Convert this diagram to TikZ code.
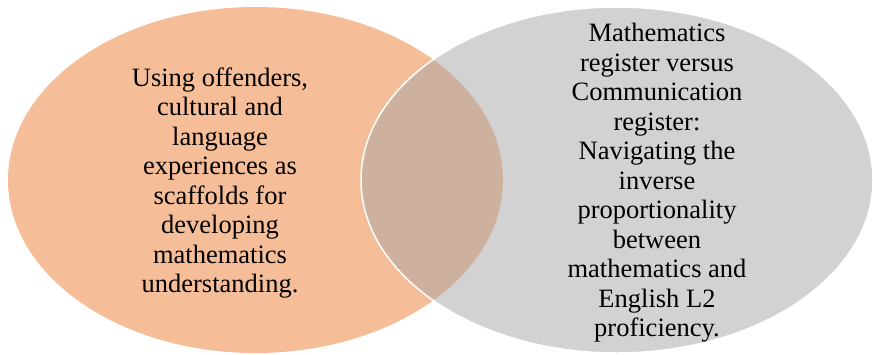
\documentclass[tikz,border=0pt]{standalone}
\usepackage{fontspec}
\setmainfont{Liberation Serif}
\definecolor{accentorange}{HTML}{ED7D31}
\definecolor{accentgray}{HTML}{A5A5A5}

\begin{document}
\begin{tikzpicture}[x=1pt, y=-1pt, line join=round,
    venn/.style={fill opacity=.5},
    venntext/.style={align=center, inner sep=0pt, font=\fontsize{26.5}{29.5}\selectfont}]
  \def\cy{180} \def\ry{173}
  \useasboundingbox (0,0) rectangle (873,354);
  % the two sets, the second one laid over the first
  \fill[venn, fill=accentorange] (255.5,\cy) ellipse [x radius=247.5, y radius=\ry];
  \filldraw[venn, fill=accentgray, draw=white, line width=1.5pt] (617,\cy) ellipse [x radius=256, y radius=\ry];
  \node[venntext] (offenders) at (220,183) {Using offenders,\\ cultural and\\ language\\ experiences as\\ scaffolds for\\ developing\\ mathematics\\ understanding.};
  \node[venntext] (register) at (657,183) {Mathematics\\ register versus\\ Communication\\ register:\\ Navigating the\\ inverse\\ proportionality\\ between\\ mathematics and\\ English L2\\ proficiency.};
\end{tikzpicture}
\end{document}
